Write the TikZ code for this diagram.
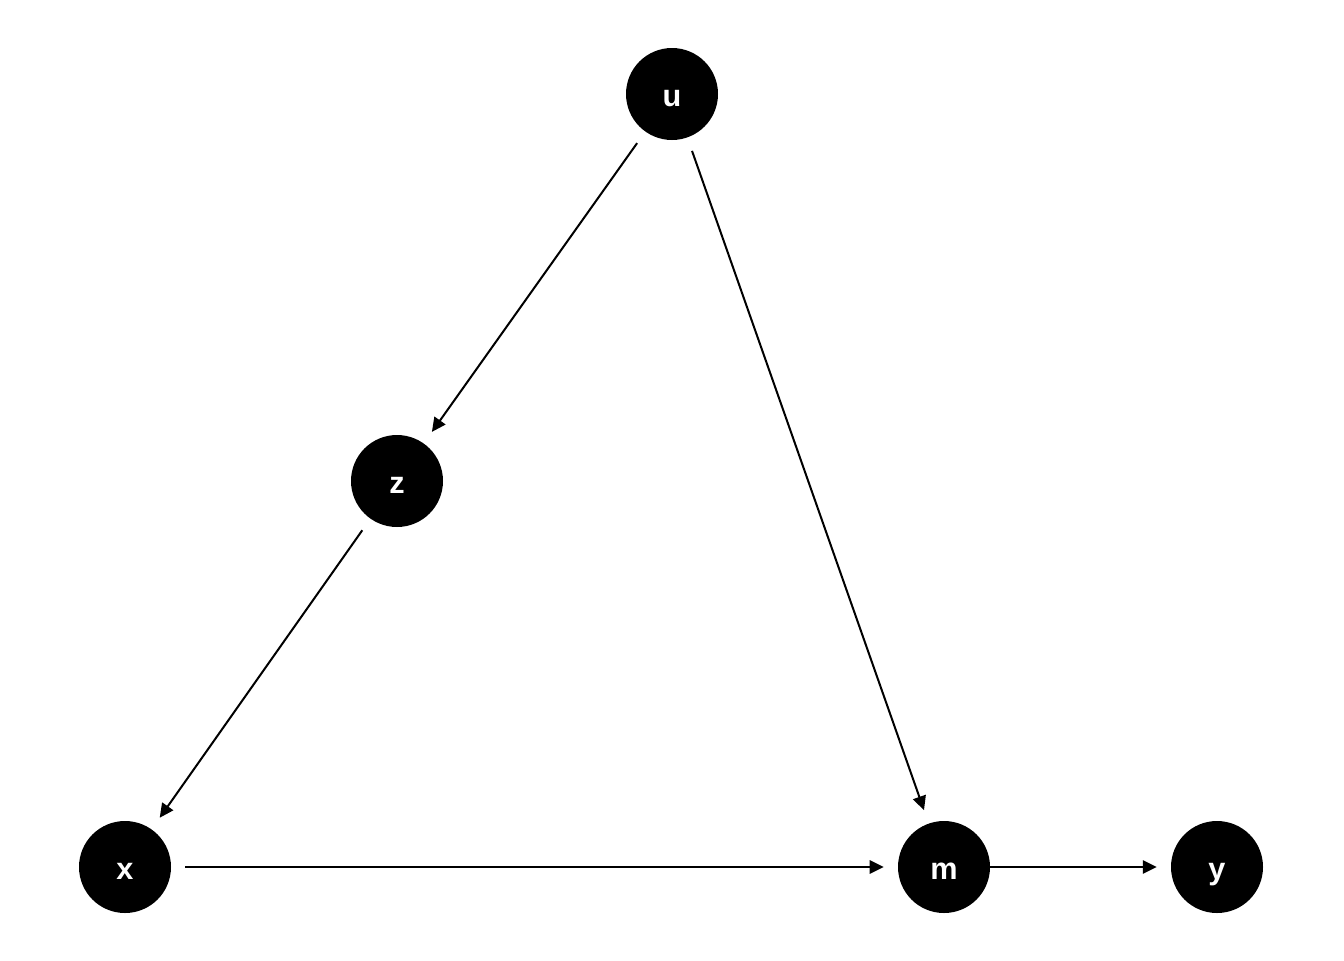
\documentclass[tikz,border=0pt]{standalone}
\usepackage{fontspec}
\setmainfont{Liberation Sans}
\usetikzlibrary{arrows.meta}
\begin{document}
\begin{tikzpicture}[x=0.75pt,y=-0.75pt,
  dagnode/.style={circle,fill=black,draw=none,minimum size=69pt,inner sep=0pt,
    text=white,text height=18pt,text depth=0pt,font=\fontsize{23}{23}\selectfont\bfseries},
  edge/.style={line width=1.5pt,-{Triangle[length=10.5pt,width=10pt]},
    shorten <=10.5pt,shorten >=10.5pt}]
\useasboundingbox (0,0) rectangle (1344,960);
\fill[white] (0,0) rectangle (1344,960);
\node[dagnode] (u) at (672,94) {u};
\node[dagnode] (z) at (397,481) {z};
\node[dagnode] (x) at (125,867) {x};
\node[dagnode] (m) at (944,867) {m};
\node[dagnode] (y) at (1217,867) {y};
\draw[edge] (u) -- (z);
\draw[edge] (z) -- (x);
\draw[edge] (u) -- (m);
\draw[edge] (x) -- (m);
\draw[edge,shorten <=0pt] (m) -- (y);
\end{tikzpicture}
\end{document}
